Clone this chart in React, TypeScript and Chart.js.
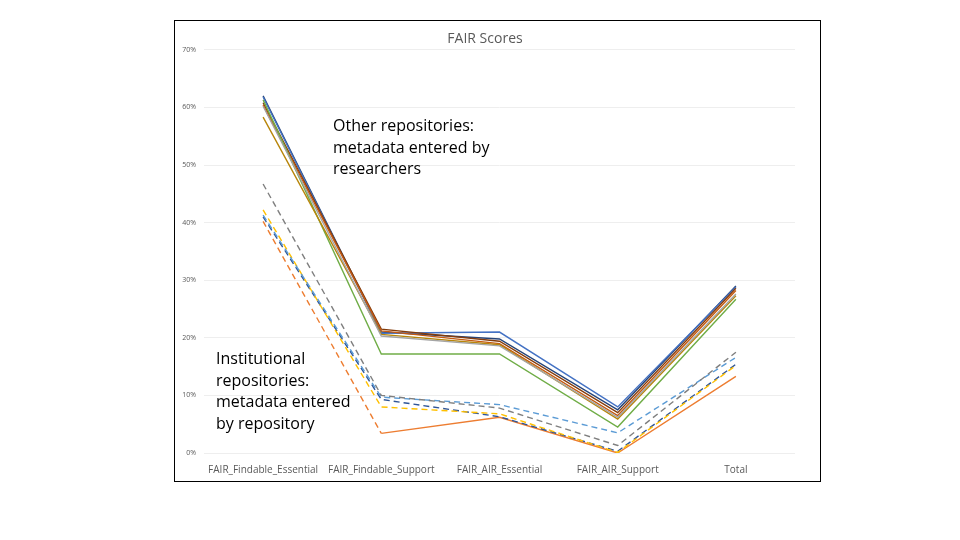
import React, { useEffect, useRef } from "react";
import { Chart, registerables } from "chart.js";

Chart.register(...registerables);

const categories = [
  "FAIR_Findable_Essential",
  "FAIR_Findable_Support",
  "FAIR_AIR_Essential",
  "FAIR_AIR_Support",
  "Total",
];

const yTicks = [0, 10, 20, 30, 40, 50, 60, 70];

// Other repositories (solid)
const otherDarkBlue = [62.0, 21.0, 19.8, 7.5, 29.0];
const otherBlue = [61.8, 20.8, 21.0, 8.0, 28.8];
const otherGreen = [61.3, 17.2, 17.2, 4.5, 26.7];
const otherBrown = [60.8, 21.5, 19.4, 7.0, 28.6];
const otherOrange = [60.4, 21.2, 19.0, 6.5, 28.2];
const otherGray = [60.2, 20.3, 18.6, 6.2, 27.6];
const otherGold = [58.3, 20.6, 18.8, 5.9, 27.3];

// Institutional repositories (dashed)
const instGray = [46.7, 10.0, 7.8, 1.3, 17.5];
const instLightBlue = [41.3, 9.7, 8.4, 3.5, 16.6];
const instYellow = [42.2, 8.0, 6.8, 0.1, 15.2];
const instBlue = [41.0, 9.3, 6.3, 0.3, 15.4];
const instOrange = [40.2, 3.4, 6.2, 0.0, 13.3];

export default function App() {
  const ref = useRef<HTMLCanvasElement | null>(null);

  useEffect(() => {
    if (!ref.current) return;
    const solid = (label: string, data: number[], color: string) => ({
      label,
      data,
      borderColor: color,
      backgroundColor: color,
      borderWidth: 1.4,
      pointRadius: 0,
      tension: 0,
    });
    const dashed = (label: string, data: number[], color: string, solidFrom = 99) => ({
      label,
      data,
      borderColor: color,
      backgroundColor: color,
      borderWidth: 1.4,
      pointRadius: 0,
      tension: 0,
      borderDash: [6, 4],
      segment: {
        borderDash: (ctx: any) => (ctx.p0DataIndex >= solidFrom ? [] : [6, 4]),
      },
    });
    const chart = new Chart(ref.current, {
      type: "line",
      data: {
        labels: categories,
        datasets: [
          dashed("Inst gray", instGray, "#7F7F7F"),
          dashed("Inst light blue", instLightBlue, "#5B9BD5"),
          dashed("Inst yellow", instYellow, "#FFC000"),
          dashed("Inst blue", instBlue, "#2F5597"),
          dashed("Inst orange", instOrange, "#ED7D31", 1),
          solid("Other gray", otherGray, "#A5A5A5"),
          solid("Other gold", otherGold, "#B8860B"),
          solid("Other green", otherGreen, "#70AD47"),
          solid("Other orange", otherOrange, "#C55A11"),
          solid("Other brown", otherBrown, "#843C0C"),
          solid("Other blue", otherBlue, "#4472C4"),
          solid("Other dark blue", otherDarkBlue, "#264478"),
        ],
      },
      options: {
        animation: false,
        responsive: false,
        maintainAspectRatio: false,
        layout: { padding: { left: 0, right: 25, top: 0, bottom: 0 } },
        plugins: {
          legend: { display: false },
          tooltip: { enabled: false },
          title: {
            display: true,
            text: "FAIR Scores",
            color: "#595959",
            font: { family: "Open Sans", size: 14, weight: "normal" },
            padding: { top: 10, bottom: 2 },
          },
        },
        scales: {
          x: {
            type: "category",
            offset: true,
            grid: { display: false },
            border: { display: false },
            ticks: {
              color: "#595959",
              font: { family: "Open Sans", size: 10 },
              maxRotation: 0,
              autoSkip: false,
            },
            afterFit: (s: any) => {
              s.height = 28;
            },
          },
          y: {
            min: 0,
            max: 70,
            afterBuildTicks: (s: any) => {
              s.ticks = yTicks.map((v) => ({ value: v }));
            },
            grid: { color: "#EEEEEE", lineWidth: 1, drawTicks: false },
            border: { display: false },
            ticks: {
              color: "#595959",
              font: { family: "Open Sans", size: 7 },
              padding: 8,
              callback: (v: any) => `${v}%`,
            },
            afterFit: (s: any) => {
              s.width = 29;
            },
          },
        },
      },
    });
    return () => chart.destroy();
  }, []);

  const textStyle: React.CSSProperties = {
    position: "absolute",
    fontFamily: "Open Sans, Liberation Sans, sans-serif",
    fontSize: 16,
    lineHeight: "21.5px",
    color: "#000",
    whiteSpace: "nowrap",
  };

  return (
    <div style={{ position: "relative", width: 944, height: 524 }}>
      <div
        style={{
          position: "absolute",
          left: 166,
          top: 12,
          width: 645,
          height: 460,
          border: "1px solid #000",
          background: "#fff",
        }}
      >
        <canvas ref={ref} width={645} height={460} style={{ display: "block" }} />
        <div style={{ ...textStyle, left: 158, top: 94 }}>
          Other repositories:
          <br />
          metadata entered by
          <br />
          researchers
        </div>
        <div style={{ ...textStyle, left: 41, top: 327 }}>
          Institutional
          <br />
          repositories:
          <br />
          metadata entered
          <br />
          by repository
        </div>
      </div>
    </div>
  );
}
